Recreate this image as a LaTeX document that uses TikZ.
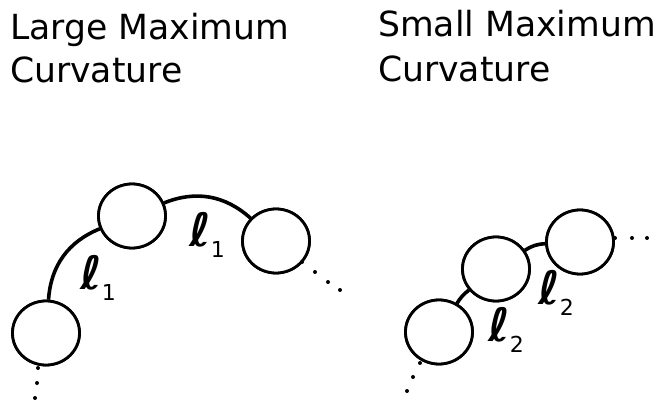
\documentclass[tikz,border=0pt]{standalone}
\usepackage{fontspec}
\setmainfont{DejaVu Sans}
\newfontfamily\ellfont{DejaVu Sans Bold Oblique}
\usetikzlibrary{shapes.geometric}
\newcommand{\lbl}[1]{{\fontsize{46}{46}\selectfont\ellfont ℓ}\raisebox{-11pt}{\fontsize{22}{22}\selectfont #1}}
\tikzset{
  bead/.style={ellipse, draw, line width=2.8pt, fill=white, minimum width=67pt, minimum height=64pt, inner sep=0pt},
  link/.style={line width=3.6pt},
  title/.style={anchor=base west, inner sep=0pt, font=\fontsize{34.6}{43}\selectfont},
  lab/.style={anchor=base west, inner sep=0pt}
}
\begin{document}
\begin{tikzpicture}[x=1pt,y=1pt]
\useasboundingbox (0,0) rectangle (659,402);
\node[title] (t1a) at (10,362) {Large Maximum};
\node[title] (t1b) at (10,319) {Curvature};
\node[title] (t2a) at (378,365) {Small Maximum};
\node[title] (t2b) at (378,320) {Curvature};
% left group
\node[bead] (A) at (46,69) {};
\node[bead] (B) at (132,186) {};
\node[bead] (C) at (276,161) {};
\draw[link] (A) to[bend left=32] (B);
\draw[link] (B) to[bend left=32] (C);
\node[bead] at (A) {};
\node[bead] at (B) {};
\node[bead] at (C) {};
\foreach \p in {(38,34),(37,19),(35,4),(302,140),(315,130),(328,120),(340,112)} \fill \p circle (2pt);
\node[lab] (l1a) at (80,112) {\lbl{1}};
\node[lab] (l1b) at (189,155) {\lbl{1}};
% right group
\node[bead] (D) at (439,70) {};
\node[bead] (E) at (496,133) {};
\node[bead] (F) at (580,160) {};
\draw[link] (D) to[bend left=10] (E);
\draw[link] (E) to[bend left=15] (F);
\node[bead] at (D) {};
\node[bead] at (E) {};
\node[bead] at (F) {};
\foreach \p in {(615,164),(632,164),(647,164),(420,39),(413,25),(407,11)} \fill \p circle (2pt);
\node[lab] (l2a) at (488,60) {\lbl{2}};
\node[lab] (l2b) at (538,97) {\lbl{2}};
\end{tikzpicture}
\end{document}
